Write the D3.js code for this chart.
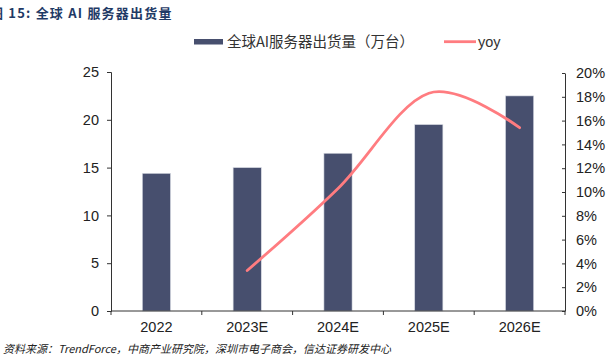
<!DOCTYPE html>
<html><head><meta charset="utf-8">
<script src="https://cdn.jsdelivr.net/npm/d3@7"></script>
<style>
html,body{margin:0;padding:0;background:#fff;}
svg{display:block;}
</style></head>
<body>
<svg id="chart" width="616" height="362"></svg>
<script>
const categories = ["2022", "2023E", "2024E", "2025E", "2026E"];
const shipments = [14.4, 15.0, 16.5, 19.5, 22.5];
const yoyCategories = ["2023E", "2024E", "2025E", "2026E"];
const yoyValues = [0.034, 0.103, 0.183, 0.154];
const leftTicks = [0, 5, 10, 15, 20, 25];
const rightTicks = [0, 0.02, 0.04, 0.06, 0.08, 0.10, 0.12, 0.14, 0.16, 0.18, 0.20];
const titleText = "图 15:  全球 AI 服务器出货量";
const barLegend = "全球AI服务器出货量（万台）";
const lineLegend = "yoy";
const sourceText = "资料来源：TrendForce，中商产业研究院，深圳市电子商会，信达证券研发中心";

const svg = d3.select("#chart");
const L = 111, R = 565, T = 72, B = 311;
const barColor = "#474F6E", lineColor = "#FF7C80";
const sans = "'Liberation Sans', Arial, 'Noto Sans CJK SC', sans-serif";
const cjk = "'Noto Sans CJK SC', 'Liberation Sans', sans-serif";

const x = d3.scaleBand().domain(categories).range([L, R]).paddingInner(0.69).paddingOuter(0.345);
const y = d3.scaleLinear().domain([0, 25]).range([B, T]);
const y2 = d3.scaleLinear().domain([0, 0.2]).range([B, 73]);

// title
svg.append("text").attr("x", -10).attr("y", 18)
  .attr("font-family", cjk).attr("font-weight", "bold").attr("font-size", 13)
  .attr("fill", "#1F3A66").attr("letter-spacing", 1.2).text(titleText);

// bars
svg.append("g").selectAll("rect").data(categories).join("rect")
  .attr("x", d => x(d)).attr("width", x.bandwidth())
  .attr("y", (d, i) => y(shipments[i])).attr("height", (d, i) => B - y(shipments[i]))
  .attr("fill", barColor).attr("stroke", "#d8dbe3").attr("stroke-width", 0.6);

// left axis
const gl = svg.append("g").attr("transform", `translate(${L},0)`)
  .call(d3.axisLeft(y).tickValues(leftTicks).tickSize(4).tickPadding(8));
// right axis (ticks pointing inward)
const gr = svg.append("g").attr("transform", `translate(${R},0)`)
  .call(d3.axisRight(y2).tickValues(rightTicks).tickFormat(d3.format(".0%")).tickSize(0).tickPadding(11));
gr.selectAll(".tick").append("line").attr("x1", -3).attr("x2", 0).attr("stroke", "#333");
// bottom axis
const gb = svg.append("g").attr("transform", `translate(0,${B})`)
  .call(d3.axisBottom(x).tickSize(0).tickPadding(11));
gb.select(".domain").attr("d", `M${L},0H${R}`);
const boundaries = d3.range(categories.length + 1).map(i => L + i * x.step());
gb.selectAll(".bnd").data(boundaries).join("line").attr("class", "bnd")
  .attr("x1", d => d).attr("x2", d => d).attr("y1", 0).attr("y2", 4).attr("stroke", "#333");

[gl, gr, gb].forEach(g => {
  g.select(".domain").attr("stroke", "#333");
  g.selectAll(".tick line").attr("stroke", "#333");
  g.selectAll("text").attr("font-family", sans).attr("font-size", 14.5).attr("fill", "#222");
});

// yoy line
const line = d3.line()
  .x((d, i) => x(yoyCategories[i]) + x.bandwidth() / 2)
  .y(d => y2(d))
  .curve(d3.curveCatmullRom.alpha(0));
svg.append("path").datum(yoyValues).attr("d", line)
  .attr("fill", "none").attr("stroke", lineColor).attr("stroke-width", 2.8).attr("stroke-linecap", "round");

// legend
svg.append("rect").attr("x", 194).attr("y", 39).attr("width", 29).attr("height", 5.5).attr("fill", barColor);
svg.append("text").attr("x", 227).attr("y", 47).attr("font-family", cjk).attr("font-size", 14.5)
  .attr("fill", "#333").text(barLegend);
svg.append("line").attr("x1", 444).attr("x2", 476).attr("y1", 41.7).attr("y2", 41.7)
  .attr("stroke", lineColor).attr("stroke-width", 2.8);
svg.append("text").attr("x", 478).attr("y", 47).attr("font-family", sans).attr("font-size", 14.5)
  .attr("fill", "#333").text(lineLegend);

// source
svg.append("text").attr("x", 3).attr("y", 353).attr("font-family", cjk).attr("font-size", 11)
  .attr("font-style", "italic").attr("fill", "#222").text(sourceText);
</script>
</body></html>
